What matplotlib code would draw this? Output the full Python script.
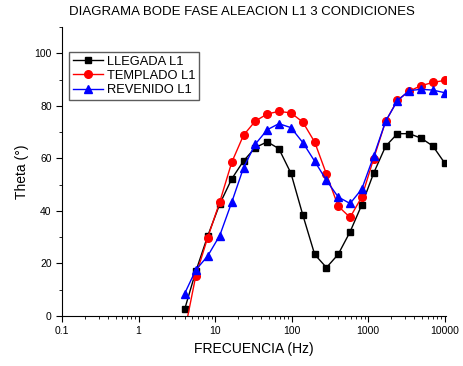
import numpy as np
import matplotlib.pyplot as plt
from matplotlib.ticker import LogLocator, NullFormatter, MultipleLocator, FixedFormatter, FixedLocator

plt.rcParams['font.family'] = ['Liberation Sans', 'DejaVu Sans']

# frequency points (Hz)
freq = [4, 5.6, 8, 11.5, 16.5, 23.5, 33.5, 48, 68, 98, 140, 200, 285, 405,
        580, 825, 1180, 1690, 2410, 3440, 4910, 7000, 10000]

# phase angle (deg) for each condition
llegada = [2.5, 17, 30.4, 42.6, 52.2, 59, 64.1, 66.3, 63.7, 54.3, 38.4, 23.4,
           18.4, 23.4, 32, 42.3, 54.4, 64.6, 69.4, 69.4, 67.7, 64.7, 58.2]
templado = [-6, 15.3, 29.8, 43.4, 58.5, 68.8, 74.2, 76.9, 77.9, 77.3, 73.8, 66.2,
            54, 41.8, 37.5, 45.3, 59.9, 74.1, 82.1, 85.6, 87.7, 88.9, 89.7]
revenido = [8.5, 17.5, 22.8, 30.6, 43.3, 56.4, 65.4, 70.9, 73.2, 71.7, 66, 58.9,
            51.6, 45.3, 42.8, 48.3, 60.8, 74.1, 82, 85.8, 86.3, 86, 85]

fig = plt.figure(figsize=(4.63, 3.66), dpi=100)
ax = fig.add_axes([0.134, 0.137, 0.83, 0.789])

ax.plot(freq, llegada, color='black', marker='s', markersize=5, lw=1, label='LLEGADA L1')
ax.plot(freq, templado, color='red', marker='o', markersize=5.5, lw=1, label='TEMPLADO L1')
ax.plot(freq, revenido, color='blue', marker='^', markersize=6, lw=1, label='REVENIDO L1')

ax.set_xscale('log')
ax.set_xlim(0.1, 10500)
ax.set_ylim(0, 110)

ax.xaxis.set_major_locator(FixedLocator([0.1, 1, 10, 100, 1000, 10000]))
ax.xaxis.set_major_formatter(FixedFormatter(['0.1', '1', '10', '100', '1000', '10000']))
ax.xaxis.set_minor_locator(LogLocator(base=10, subs=np.arange(2, 10)))
ax.xaxis.set_minor_formatter(NullFormatter())
ax.yaxis.set_major_locator(FixedLocator([0, 20, 40, 60, 80, 100]))
ax.yaxis.set_minor_locator(MultipleLocator(10))

ax.spines['top'].set_visible(False)
ax.spines['right'].set_visible(False)
ax.tick_params(which='major', direction='out', length=4, labelsize=7.5)
ax.tick_params(which='minor', direction='out', length=2)

ax.set_xlabel('FRECUENCIA (Hz)', fontsize=10)
ax.set_ylabel('Theta (°)', fontsize=10)
fig.text(0.523, 0.966, 'DIAGRAMA BODE FASE ALEACION L1 3 CONDICIONES',
         fontsize=9.5, ha='center', va='center')

leg = ax.legend(loc='upper left', bbox_to_anchor=(0.018, 0.915), fontsize=9.3,
                fancybox=False, edgecolor='#333333', handlelength=2.3,
                handletextpad=0.35, borderpad=0.3, labelspacing=0.18, borderaxespad=0)
leg.get_frame().set_linewidth(1)

fig.savefig('out.png', dpi=100)
